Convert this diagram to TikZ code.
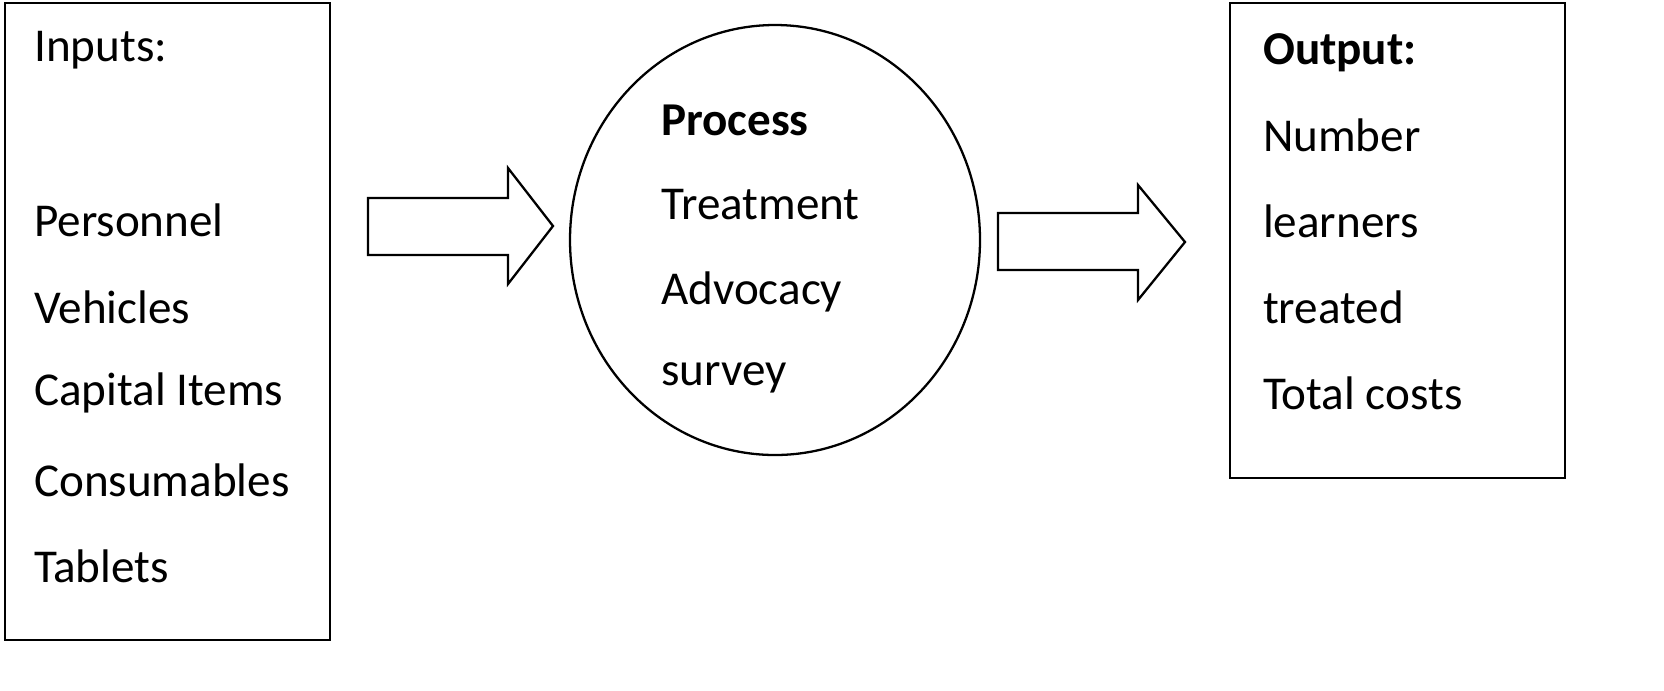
\documentclass[tikz,border=0pt]{standalone}
\usepackage{fontspec}
\setmainfont{Carlito}
\usetikzlibrary{positioning}
\tikzset{
  lbl/.style={anchor=west,inner sep=0pt,font=\fontsize{13.4pt}{15pt}\selectfont},
  bigarrow/.style={draw,fill=white}
}
\begin{document}
\begin{tikzpicture}[x=0.01cm,y=-0.01cm,line width=0.65pt]
		\useasboundingbox (0,0) rectangle (1664,690);
		% input box
		\draw (5,3) rectangle (330,640);
		\node[lbl] (inp) at (33,50) {Inputs:};
		\node[lbl] (pers) at (33,220) {Personnel};
		\node[lbl] (veh) at (33,307) {Vehicles};
		\node[lbl] (cap) at (33,393) {Capital Items};
		\node[lbl] (cons) at (33,480) {Consumables};
		\node[lbl] (tab) at (33,566) {Tablets};
		% first arrow
		\draw[bigarrow] (368,198) -- (508,198) -- (508,168) -- (553,226) -- (508,284) -- (508,255) -- (368,255) -- cycle;
		% process ellipse
		\draw (775,240) ellipse [x radius=205, y radius=215];
		\node[lbl,font=\fontsize{13.4pt}{15pt}\selectfont\bfseries] (proc) at (660,120) {Process};
		\node[lbl] (treat) at (660,205) {Treatment};
		\node[lbl] (adv) at (660,292) {Advocacy};
		\node[lbl] (surv) at (660,378) {survey};
		% second arrow
		\draw[bigarrow] (998,213) -- (1138,213) -- (1138,185) -- (1185,242) -- (1138,300) -- (1138,270) -- (998,270) -- cycle;
		% output box
		\draw (1230,3) rectangle (1565,478);
		\node[lbl,font=\fontsize{13.4pt}{15pt}\selectfont\bfseries] (outp) at (1262,53) {Output:};
		\node[lbl] (num) at (1262,135) {Number};
		\node[lbl] (lrn) at (1262,221) {learners};
		\node[lbl] (trt) at (1262,307) {treated};
		\node[lbl] (tot) at (1262,393) {Total costs};
\end{tikzpicture}
\end{document}
